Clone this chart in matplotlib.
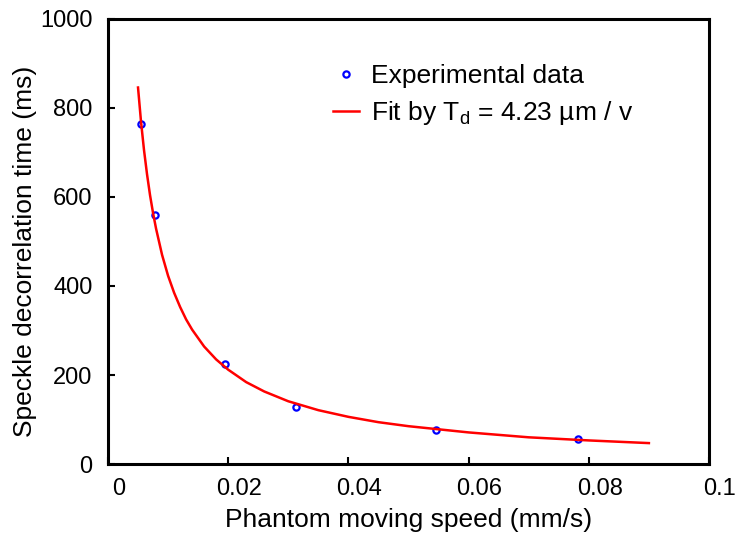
import matplotlib
matplotlib.use('Agg')
import matplotlib.pyplot as plt
import matplotlib.transforms as mtransforms

speed = [0.0055, 0.0078, 0.0195, 0.0313, 0.0546, 0.0782]
t_decor = [764, 560, 224, 128, 76, 56]

# fit curve T_d = 4.23 um / v, sampled values
fit_speed = [0.005, 0.0055, 0.006, 0.0065, 0.007, 0.0075, 0.008, 0.009, 0.010,
             0.011, 0.012, 0.013, 0.014, 0.016, 0.018, 0.020, 0.023, 0.026,
             0.030, 0.035, 0.040, 0.045, 0.050, 0.060, 0.070, 0.080, 0.090]
fit_t = [846, 769, 705, 651, 604, 564, 529, 470, 423,
         385, 353, 325, 302, 264, 235, 212, 184, 163,
         141, 121, 106, 94, 85, 71, 60, 53, 47]

x_ticks = [0, 0.02, 0.04, 0.06, 0.08, 0.1]
x_ticklabels = ['0', '0.02', '0.04', '0.06', '0.08', '0.1']
y_ticks = [0, 200, 400, 600, 800, 1000]

plt.rcParams['font.family'] = ['Liberation Sans', 'DejaVu Sans']
plt.rcParams['mathtext.fontset'] = 'custom'
plt.rcParams['mathtext.rm'] = 'Liberation Sans'

fig = plt.figure(figsize=(7.38, 5.36), dpi=100)
ax = fig.add_axes([0.1463, 0.1343, 0.8144, 0.8303])

ax.plot(speed, t_decor, 'o', ms=4.5, mfc='none', mec='blue', mew=1.6,
        label='Experimental data')
ax.plot(fit_speed, fit_t, '-', color='red', lw=1.8,
        label=r'Fit by T$_\mathrm{d}$ = 4.23 µm / v')

ax.set_xlim(0, 0.1)
ax.set_ylim(0, 1000)
ax.set_xticks(x_ticks)
ax.set_xticklabels(x_ticklabels)
ax.set_yticks(y_ticks)

for s in ax.spines.values():
    s.set_linewidth(2.2)
ax.tick_params(direction='in', length=5, width=1.5, labelsize=17)
ax.tick_params(axis='x', pad=10)
ax.tick_params(axis='y', pad=11)

# x tick labels sit a bit to the right of their ticks in the original
shift = mtransforms.ScaledTranslation(11 / 100, 0, fig.dpi_scale_trans)
for lbl in ax.get_xticklabels():
    lbl.set_transform(lbl.get_transform() + shift)

ax.set_xlabel('Phantom moving speed (mm/s)', fontsize=19, labelpad=6)
ax.set_ylabel('Speckle decorrelation time (ms)', fontsize=19)
ax.yaxis.set_label_coords(-0.118, 0.478)

ax.legend(loc='upper left', bbox_to_anchor=(0.335, 0.952), frameon=False,
          handlelength=1.0, handletextpad=0.45, labelspacing=0.42,
          fontsize=19)

fig.savefig('out.png', dpi=100)
